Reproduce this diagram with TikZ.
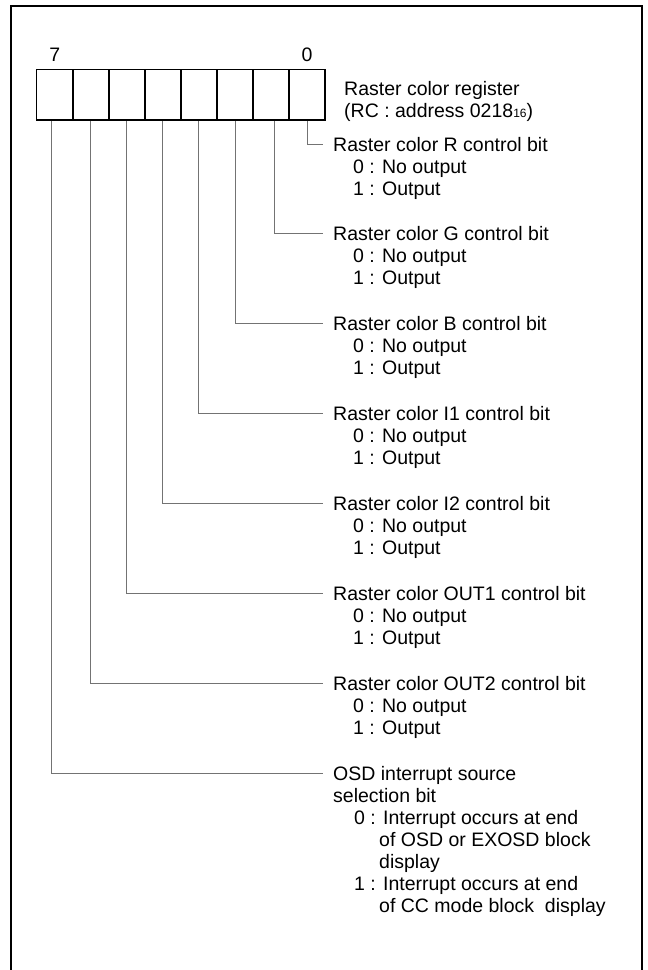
\documentclass[tikz,border=0pt]{standalone}
\usepackage{fontspec}
\setmainfont{Liberation Sans}
\usetikzlibrary{positioning}
\begin{document}
\begin{tikzpicture}[
    x=1pt, y=-1pt,
    every node/.style={font=\fontsize{19.5}{22}\selectfont, inner sep=0pt, text height=14pt, text depth=0pt},
    quadro/.style={line width=2.6pt, black},
    celula/.style={draw, line width=1.6pt, minimum width=36.04pt, minimum height=50.7pt},
    guia/.style={line width=0.8pt, black!55},
    titulo/.style={anchor=base west, inner xsep=10pt},
    opcao/.style={anchor=base west}
  ]
  \useasboundingbox (0,0) rectangle (648,970);

  % Quadro aberto embaixo
  \draw[quadro] (11,975) -- (11,6) -- (642,6) -- (642,975);

  % Registrador RC
  \foreach \i in {0,...,7}
    \node[celula] (b\i) at ({306.98-36.04*\i}, 94.65) {};
  \node[above=7pt of b7.north] (n7) {7};
  \node[above=7pt of b0.north] (n0) {0};
  \node[anchor=base west] (reg) at (344, 95) {Raster color register};
  \node[anchor=base west] (end) at (344, 117) {(RC : address 0218{\fontsize{12}{12}\selectfont 16})};

  % Bits 0 a 6
  \foreach \i/\cor [evaluate=\i as \ly using 144+89.86*\i] in {0/R, 1/G, 2/B, 3/I1, 4/I2, 5/OUT1, 6/OUT2} {
    \node[titulo] (t\i) at (323, \ly+7) {Raster color \cor\ control bit};
    \node[opcao] (z\i) at (353, \ly+29) {0 : No output};
    \node[opcao] (u\i) at (353, \ly+51) {1 : Output};
  }

  % Bit 7
  \node[titulo] (t7) at (323, 780) {OSD interrupt source};
  \node[opcao] (s7) at (333, 802) {selection bit};
  \node[opcao] (z7) at (354, 824) {0 : Interrupt occurs at end};
  \node[opcao] (z7a) at (379, 846) {of OSD or EXOSD block};
  \node[opcao] (z7b) at (379, 868) {display};
  \node[opcao] (u7) at (354, 890) {1 : Interrupt occurs at end};
  \node[opcao] (u7a) at (379, 912) {of CC mode block\ \ display};

  % Linhas guia
  \foreach \i/\dx in {0/0, 1/3, 2/0, 3/0, 4/0, 5/0, 6/0, 7/-3}
    \draw[guia] ([xshift=\dx pt]b\i.south) |- (t\i.west);

\end{tikzpicture}
\end{document}
